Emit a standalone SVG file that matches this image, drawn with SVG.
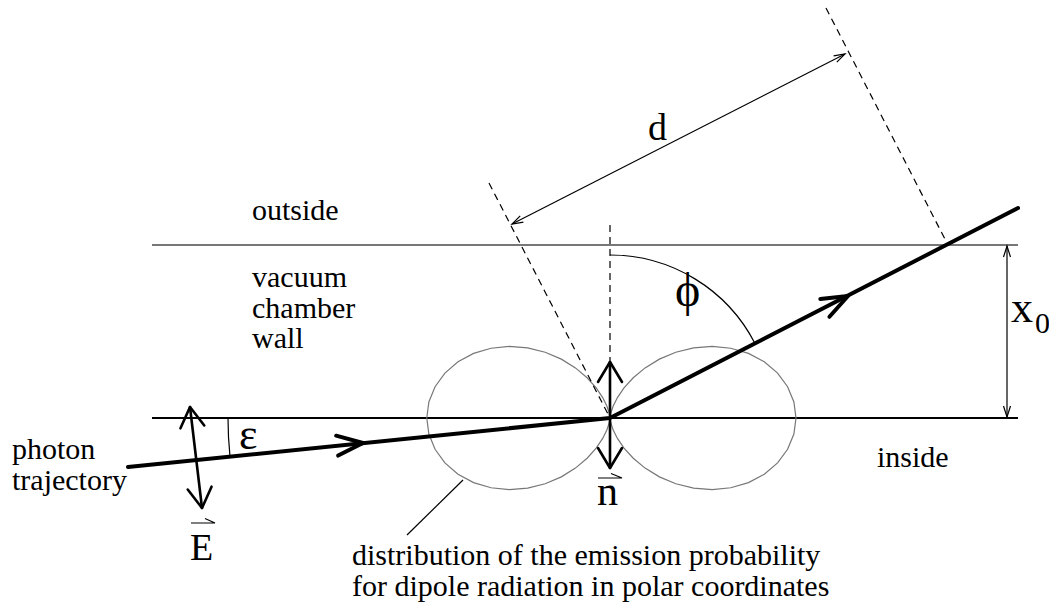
<svg xmlns="http://www.w3.org/2000/svg" xmlns:xlink="http://www.w3.org/1999/xlink" width="1049" height="613" viewBox="0 0 1049 613">
<style>
.lbl{font-size:30px}
.thin{fill:none;stroke:#000;stroke-width:1.2}
.dash{fill:none;stroke:#000;stroke-width:1.2;stroke-dasharray:7,5}
.traj{fill:none;stroke:#000;stroke-width:4;stroke-linecap:round;stroke-linejoin:round}
.vec{fill:none;stroke:#000;stroke-width:2.6;stroke-linecap:round;stroke-linejoin:round}
.lobe{fill:none;stroke:#777;stroke-width:1.2}
</style>
<defs>
<polyline id="ht" points="-26,-10 0,0 -26,10" class="traj"/>
<polyline id="hv" points="-20,-12 0,0 -20,12" class="vec"/>
<polyline id="hs" points="-11,-3.5 0,0 -11,3.5" class="thin"/>
<path id="lobe" class="lobe" d="M0,0 L0.12,-1.41 L0.97,-5.52 L3.2,-12.04 L7.44,-20.45 L14,-30.1 L23.25,-40.27 L35.1,-50.13 L49.4,-58.87 L65.8,-65.76 L83.6,-70.16 L102.2,-71.59 L120.8,-69.75 L138.5,-64.57 L154.3,-56.17 L167.6,-44.91 L177.6,-31.32 L183.9,-16.09 L186,0 L183.9,16.09 L177.6,31.32 L167.6,44.91 L154.3,56.17 L138.5,64.57 L120.8,69.75 L102.2,71.59 L83.6,70.16 L65.8,65.76 L49.4,58.87 L35.1,50.13 L23.25,40.27 L14,30.1 L7.44,20.45 L3.2,12.04 L0.97,5.52 L0.12,1.41 Z"/>
</defs>

<g id="walls">
<line x1="152" y1="245" x2="1018" y2="245" stroke="#777" stroke-width="2"/>
<line x1="152" y1="418" x2="1018" y2="418" stroke="#000" stroke-width="2"/>
</g>

<g id="lobes">
<use xlink:href="#lobe" transform="translate(610,418)"/>
<use xlink:href="#lobe" transform="translate(610,418) scale(-0.985,1)"/>
</g>

<g id="connectors">
<line class="dash" x1="610" y1="225" x2="610" y2="418"/>
<line class="dash" x1="489" y1="183" x2="610" y2="418"/>
<line class="dash" x1="826" y1="8" x2="948" y2="245"/>
<line class="thin" x1="512" y1="224" x2="845" y2="54"/>
<use xlink:href="#hs" transform="translate(845,54) rotate(-27.04)"/>
<use xlink:href="#hs" transform="translate(512,224) rotate(152.96)"/>
<line class="thin" x1="1007" y1="246" x2="1007" y2="417"/>
<use xlink:href="#hs" transform="translate(1007,246) rotate(-90)"/>
<use xlink:href="#hs" transform="translate(1007,417) rotate(90)"/>
<path class="thin" d="M610,255 A163,163 0 0 1 755,343.5"/>
<path class="thin" d="M228,418 A382,382 0 0 0 230,456.6"/>
<line class="thin" x1="407" y1="535" x2="463" y2="480"/>
</g>

<g id="trajectory">
<polyline class="traj" points="128,467 610,418 1018,208"/>
<use xlink:href="#ht" transform="translate(363,443) rotate(-5.8)"/>
<use xlink:href="#ht" transform="translate(848,296) rotate(-27.2)"/>
</g>

<g font-family="'Liberation Serif', 'Times New Roman', 'DejaVu Serif', serif" fill="#000">
<g id="vector-E">
<line class="vec" x1="190" y1="407" x2="202" y2="508"/>
<use xlink:href="#hv" transform="translate(190,407) rotate(-96.8)"/>
<use xlink:href="#hv" transform="translate(202,508) rotate(83.2)"/>
<text x="190" y="560" font-size="38">E</text>
<path class="thin" d="M191,523 H215 L205,518.5"/>
</g>

<g id="vector-n">
<line class="vec" x1="610" y1="362" x2="610" y2="468"/>
<use xlink:href="#hv" transform="translate(610,362) rotate(-90)"/>
<use xlink:href="#hv" transform="translate(610,468) rotate(90)"/>
<text x="597" y="505" font-size="42">n</text>
<path class="thin" d="M598,478 H622 L611,473.5"/>
</g>

<g id="labels">
<text class="lbl" x="252" y="220">outside</text>
<text class="lbl" x="252" y="287">vacuum</text>
<text class="lbl" x="252" y="318">chamber</text>
<text class="lbl" x="252" y="348">wall</text>
<text class="lbl" x="12" y="459">photon</text>
<text class="lbl" x="12" y="490">trajectory</text>
<text class="lbl" x="877" y="467">inside</text>
<text class="lbl" x="352" y="565">distribution of the emission probability</text>
<text class="lbl" x="352" y="596">for dipole radiation in polar coordinates</text>
<text x="648" y="140" font-size="38">d</text>
<text x="675" y="306" font-size="48">ϕ</text>
<text x="239" y="449" font-size="44">ε</text>
<text x="1011" y="322" font-size="44">x</text>
<text x="1035" y="333" font-size="30">0</text>
</g>
</g>
</svg>
